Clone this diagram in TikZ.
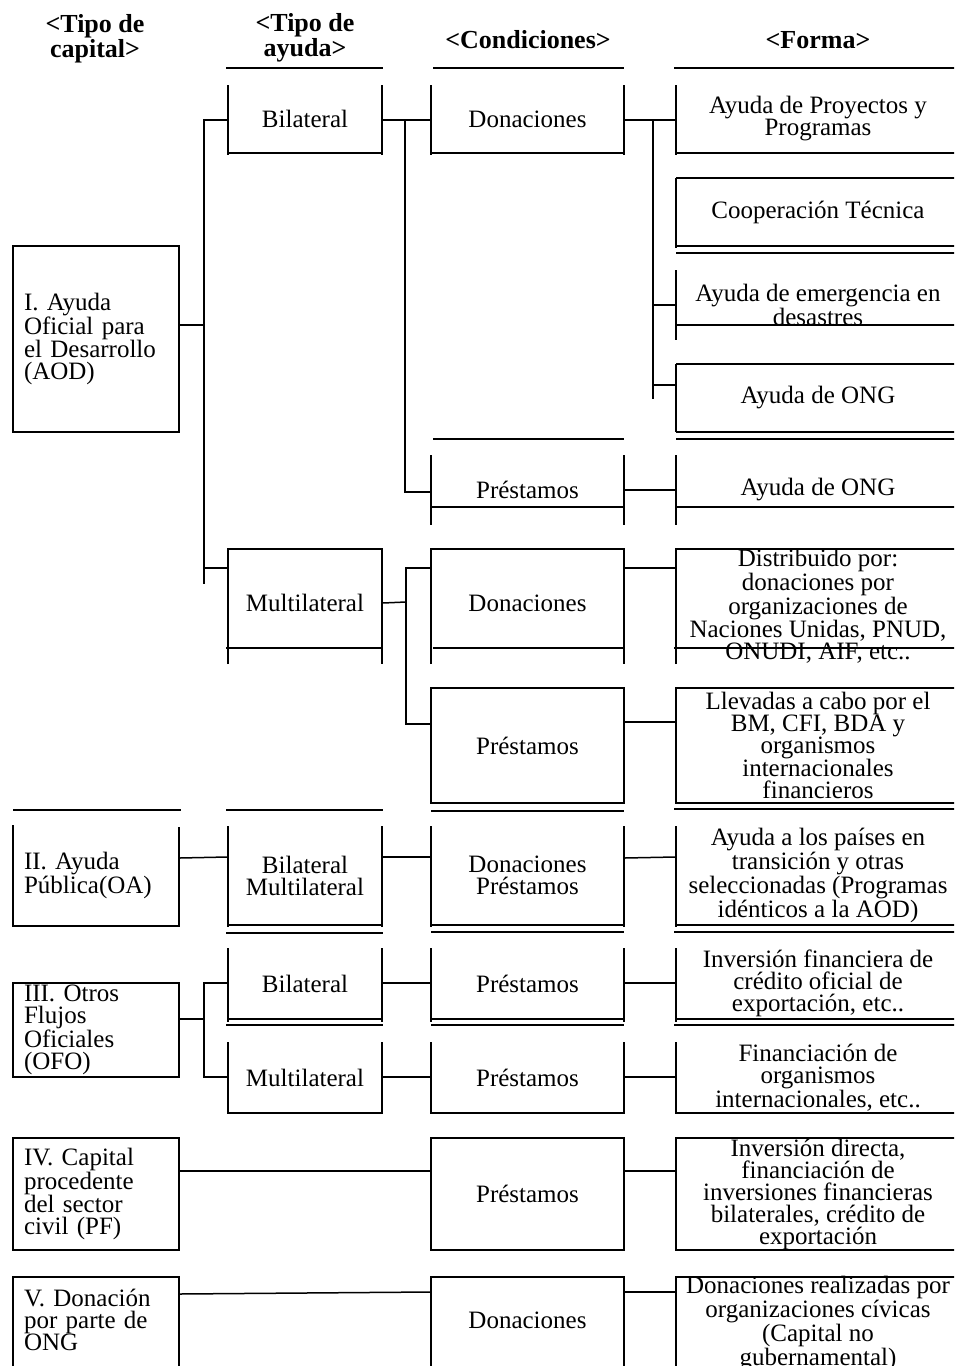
\documentclass[tikz,border=0pt]{standalone}
\usepackage{fontspec}
\setmainfont{Liberation Serif}
\newcommand\bx[7][]{%
  \node[bxs,#1,minimum width={(#5-#3)*1pt},minimum height={(#6-#4)*1pt}] (#2) at ({(#3+#5)/2},{(#4+#6)/2}) {#7};}
\begin{document}
\begin{tikzpicture}[x=1pt,y=-1pt,line width=1.5pt,
  bxs/.style={inner sep=0pt, align=center, font=\fontsize{25}{22}\selectfont},
  c1/.style={align=left, text width=144pt, inner xsep=11pt},
  hd/.style={inner sep=0pt, align=center, font=\bfseries\fontsize{26}{21}\selectfont}]
\fill[white] (0,0) rectangle (954,1366);
\useasboundingbox (0,0) rectangle (954,1366);
\clip (0,0) rectangle (954,1366);

% headers
\node[hd] (h1) at (95,39) {<Tipo de\\capital>};
\node[hd] (h2) at (305,38) {<Tipo de\\ayuda>};
\node[hd] (h3) at (528,40) {<Condiciones>};
\node[hd] (h4) at (818,40) {<Forma>};
\draw (226,68) -- (383,68) (433,68) -- (624,68) (674,68) -- (960,68);

% nodes
\bx[c1]{aod}{13}{246}{179}{432}{I. Ayuda\\Oficial para\\el Desarrollo\\(AOD)}
\bx{bilA}{228}{85}{382}{153}{Bilateral}
\bx{donA}{431}{85}{624}{153}{Donaciones}
\bx{fA}{676}{85}{960}{153}{Ayuda de Proyectos y\\Programas}
\bx{fB}{676}{178}{960}{246}{Cooperación Técnica}
\bx{fC}{676}{270}{960}{340}{Ayuda de emergencia en\\desastres}
\bx{fD}{676}{364}{960}{432}{Ayuda de ONG}
\bx{preA}{431}{455}{624}{525}{Préstamos}
\bx{fE}{676}{455}{960}{525}{Ayuda de ONG}
\bx{mulA}{228}{549}{382}{657}{Multilateral}
\bx{donB}{431}{549}{624}{657}{Donaciones}
\bx{fF}{676}{549}{960}{664}{Distribuido por:\\donaciones por\\organizaciones de\\Naciones Unidas, PNUD,\\ONUDI, AIF, etc..}
\bx{preB}{431}{688}{624}{803}{Préstamos}
\bx{fG}{676}{688}{960}{803}{Llevadas a cabo por el\\BM, CFI, BDA y\\organismos\\internacionales\\financieros}
\bx[c1]{oa}{13}{825}{179}{926}{II. Ayuda\\Pública(OA)}
\bx{bmA}{228}{826}{382}{925}{Bilateral\\Multilateral}
\bx{dpA}{431}{826}{624}{925}{Donaciones\\Préstamos}
\bx{fH}{676}{826}{960}{925}{Ayuda a los países en\\transición y otras\\seleccionadas (Programas\\idénticos a la AOD)}
\bx[c1]{ofo}{13}{983}{179}{1077}{III. Otros\\Flujos\\Oficiales\\(OFO)}
\bx{bilB}{228}{948}{382}{1019}{Bilateral}
\bx{mulB}{228}{1042}{382}{1113}{Multilateral}
\bx{preC}{431}{948}{624}{1019}{Préstamos}
\bx{preD}{431}{1042}{624}{1113}{Préstamos}
\bx{fI}{676}{948}{960}{1019}{Inversión financiera de\\crédito oficial de\\exportación, etc..}
\bx{fJ}{676}{1042}{960}{1113}{Financiación de\\organismos\\internacionales, etc..}
\bx[c1]{pf}{13}{1138}{179}{1250}{IV. Capital\\procedente\\del sector\\civil (PF)}
\bx{preE}{431}{1138}{624}{1250}{Préstamos}
\bx{fK}{676}{1138}{960}{1250}{Inversión directa,\\financiación de\\inversiones financieras\\bilaterales, crédito de\\exportación}
\bx[c1]{ong}{13}{1277}{179}{1363}{V. Donación\\por parte de\\ONG}
\bx{donC}{431}{1277}{624}{1363}{Donaciones}
\bx{fL}{676}{1277}{960}{1370}{Donaciones realizadas por\\organizaciones cívicas\\(Capital no\\gubernamental)}

% box outlines
\draw (13,246) rectangle (179,432);
\draw (228,85) -- (228,155) (382,85) -- (382,155) (228,153) -- (382,153);
\draw (431,85) -- (431,155) (624,85) -- (624,155) (431,153) -- (624,153);
\draw (676,85) -- (676,155) (676,153) -- (960,153);
\draw (676,178) -- (676,248) (676,178) -- (960,178) (676,246) -- (960,246) (676,253) -- (960,253);
\draw (676,270) -- (676,340) (676,325) -- (960,325);
\draw (676,364) -- (676,432) (676,364) -- (960,364) (676,432) -- (960,432) (676,439) -- (960,439);
\draw (433,439) -- (624,439) (431,455) -- (431,525) (624,455) -- (624,525) (431,507) -- (624,507);
\draw (676,455) -- (676,525) (676,507) -- (960,507);
\draw (228,664) -- (228,549) -- (382,549) -- (382,664) (226,648) -- (382,648);
\draw (431,664) -- (431,549) -- (624,549) -- (624,664) (433,648) -- (624,648);
\draw (676,664) -- (676,549) -- (960,549) (674,648) -- (960,648);
\draw (431,688) rectangle (624,803) (431,811) -- (624,811);
\draw (960,688) -- (676,688) -- (676,803) -- (960,803) (674,809) -- (960,809);
\draw (13,810) -- (181,810) (226,810) -- (383,810);
\draw (13,825) -- (13,926) -- (179,926) -- (179,827);
\draw (228,826) -- (228,927) (382,826) -- (382,927) (228,925) -- (382,925) (226,933) -- (383,933);
\draw (431,826) -- (431,927) (624,826) -- (624,927) (431,925) -- (624,925) (431,932) -- (624,932);
\draw (676,826) -- (676,927) (676,925) -- (960,925) (674,932) -- (960,932);
\draw (13,983) rectangle (179,1077);
\draw (228,948) -- (228,1022) (382,948) -- (382,1022) (228,1019) -- (382,1019) (226,1025) -- (383,1025);
\draw (228,1042) -- (228,1113) -- (382,1113) -- (382,1042);
\draw (431,948) -- (431,1022) (624,948) -- (624,1022) (431,1019) -- (624,1019) (431,1025) -- (624,1025);
\draw (431,1042) -- (431,1113) -- (624,1113) -- (624,1042);
\draw (676,948) -- (676,1022) (676,1019) -- (960,1019) (674,1025) -- (960,1025);
\draw (676,1042) -- (676,1113) -- (960,1113);
\draw (13,1138) rectangle (179,1250);
\draw (431,1138) rectangle (624,1250);
\draw (960,1138) -- (676,1138) -- (676,1250) -- (960,1250);
\draw (13,1370) -- (13,1277) -- (179,1277) -- (179,1370);
\draw (431,1370) -- (431,1277) -- (624,1277) -- (624,1370);
\draw (960,1277) -- (676,1277) -- (676,1370);

% connectors
\draw (bilA.west |- 0,120) -- (204,120) -- (204,584);
\draw (aod.east |- 0,325) -- (204,325);
\draw (mulA.west |- 0,568) -- (204,568);
\draw (bilA.east |- 0,120) -- (donA.west |- 0,120);
\draw (405,120) -- (405,492) -- (preA.west |- 0,492);
\draw (donA.east |- 0,120) -- (fA.west |- 0,120);
\draw (653,120) -- (653,399);
\draw (653,305) -- (fC.west |- 0,305);
\draw (653,385) -- (fD.west |- 0,385);
\draw (preA.east |- 0,490) -- (fE.west |- 0,490);
\draw (mulA.east |- 0,603) -- (406,602);
\draw (donB.west |- 0,568) -- (406,568) -- (406,724) -- (preB.west |- 0,724);
\draw (donB.east |- 0,568) -- (fF.west |- 0,568);
\draw (preB.east |- 0,722) -- (fG.west |- 0,722);
\draw (oa.east |- 0,858) -- (bmA.west |- 0,857);
\draw (bmA.east |- 0,857) -- (dpA.west |- 0,857);
\draw (dpA.east |- 0,858) -- (fH.west |- 0,857);
\draw (ofo.east |- 0,1019) -- (204,1019);
\draw (bilB.west |- 0,983) -- (204,983) -- (204,1077) -- (mulB.west |- 0,1077);
\draw (bilB.east |- 0,983) -- (preC.west |- 0,983);
\draw (preC.east |- 0,983) -- (fI.west |- 0,983);
\draw (mulB.east |- 0,1077) -- (preD.west |- 0,1077);
\draw (preD.east |- 0,1077) -- (fJ.west |- 0,1077);
\draw (pf.east |- 0,1171) -- (preE.west |- 0,1171);
\draw (preE.east |- 0,1171) -- (fK.west |- 0,1171);
\draw (ong.east |- 0,1294) -- (donC.west |- 0,1292);
\draw (donC.east |- 0,1292) -- (fL.west |- 0,1292);
\end{tikzpicture}
\end{document}
